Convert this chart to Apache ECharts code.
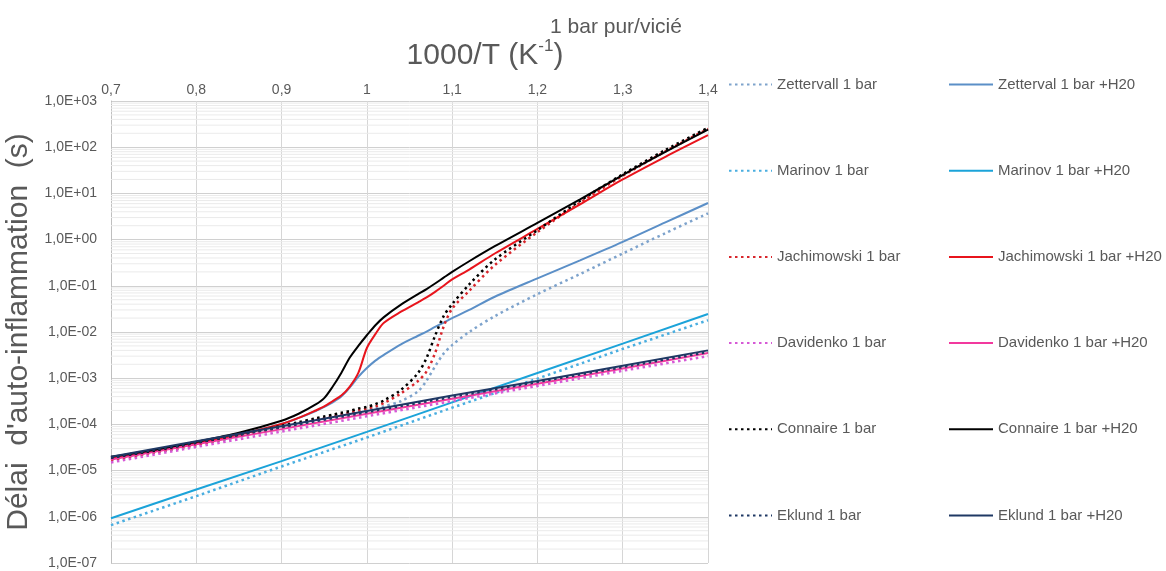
<!DOCTYPE html>
<html>
<head>
<meta charset="utf-8">
<script src="https://cdn.jsdelivr.net/npm/echarts@6/dist/echarts.min.js"></script>
<style>html,body{margin:0;padding:0;background:#fff}#c{width:1166px;height:571px}</style>
</head>
<body>
<div id="c"></div>
<script>
// ---- data ----
const xFine = [0.70,0.75,0.80,0.85,0.90,0.92,0.94,0.95,0.96,0.97,0.98,0.99,1.00,1.01,1.02,1.04,1.06,1.07,1.08,1.09,1.10,1.12,1.15,1.20,1.25,1.30,1.35,1.40];
const xCoarse = [0.7,0.8,0.9,1.0,1.1,1.2,1.3,1.4];

const zettervall1bar = [1.66e-5,2.4e-5,3.55e-5,5.4e-5,8.3e-5,1.0e-4,1.2e-4,1.32e-4,1.45e-4,1.6e-4,1.74e-4,1.9e-4,2.05e-4,2.25e-4,2.45e-4,3.2e-4,5.2e-4,8.9e-4,1.8e-3,3.4e-3,5.2e-3,1.0e-2,2.2e-2,6.6e-2,0.18,0.50,1.38,3.7];
const zettervalH2O = [1.8e-5,2.6e-5,3.9e-5,6.0e-5,1.02e-4,1.38e-4,1.95e-4,2.4e-4,3.0e-4,4.0e-4,6.3e-4,1.07e-3,1.66e-3,2.4e-3,3.2e-3,5.4e-3,8.3e-3,1.02e-2,1.29e-2,1.6e-2,2.0e-2,3.0e-2,5.8e-2,0.145,0.355,0.89,2.35,6.2];
const jachimowski1bar = [1.7e-5,2.45e-5,3.6e-5,5.6e-5,8.7e-5,1.05e-4,1.26e-4,1.38e-4,1.5e-4,1.66e-4,1.8e-4,2.0e-4,2.2e-4,2.45e-4,2.9e-4,4.7e-4,8.7e-4,1.4e-3,3.5e-3,1.3e-2,3.2e-2,7.8e-2,0.28,1.45,6.3,24,81,250];
const jachimowskiH2O = [1.8e-5,2.6e-5,3.9e-5,6.0e-5,1.02e-4,1.38e-4,2.0e-4,2.45e-4,3.2e-4,4.2e-4,6.6e-4,1.3e-3,4.5e-3,9.0e-3,1.58e-2,2.75e-2,4.4e-2,5.6e-2,7.4e-2,0.10,0.138,0.225,0.50,1.70,5.8,20,62,182];
const connaire1bar = [1.9e-5,2.7e-5,4.0e-5,6.0e-5,9.3e-5,1.12e-4,1.35e-4,1.48e-4,1.62e-4,1.78e-4,1.95e-4,2.2e-4,2.4e-4,2.75e-4,3.3e-4,5.6e-4,1.3e-3,2.75e-3,8.3e-3,2.2e-2,4.0e-2,0.107,0.37,1.6,6.9,26,87,263];
const connaireH2O = [2.0e-5,2.8e-5,4.2e-5,6.6e-5,1.2e-4,1.7e-4,2.7e-4,3.7e-4,6.6e-4,1.3e-3,2.8e-3,5.0e-3,8.5e-3,1.4e-2,2.1e-2,3.9e-2,6.6e-2,8.5e-2,0.112,0.15,0.20,0.34,0.72,2.3,7.4,25,79,240];

const marinov1bar = [6.6e-7,2.8e-6,1.23e-5,5.2e-5,2.3e-4,9.8e-4,4.3e-3,1.8e-2];
const marinovH2O = [9.3e-7,3.9e-6,1.6e-5,6.9e-5,3.0e-4,1.3e-3,5.6e-3,2.45e-2];
const davidenko1bar = [1.5e-5,3.25e-5,7.0e-5,1.5e-4,3.2e-4,6.8e-4,1.45e-3,3.0e-3];
const davidenkoH2O = [1.74e-5,3.7e-5,7.9e-5,1.7e-4,3.6e-4,7.6e-4,1.62e-3,3.5e-3];
const eklund1bar = [1.9e-5,4.1e-5,8.7e-5,1.85e-4,3.95e-4,8.3e-4,1.75e-3,3.7e-3];
const eklundH2O = [2.0e-5,4.3e-5,9.1e-5,1.95e-4,4.2e-4,8.7e-4,1.86e-3,4.0e-3];

const namesDotted = ['Zettervall 1 bar','Marinov 1 bar','Jachimowski 1 bar','Davidenko 1 bar','Connaire 1 bar','Eklund 1 bar'];
const namesSolid = ['Zetterval 1 bar +H20','Marinov 1 bar +H20','Jachimowski 1 bar +H20','Davidenko 1 bar +H20','Connaire 1 bar +H20','Eklund 1 bar +H20'];

const xMin = 0.7, xMax = 1.4;
const yMinExp = -7, yMaxExp = 3;

// ---- build ----
function pairs(xs, ys){ return xs.map((x,i)=>[x, ys[i]]); }
const FONT = 'Liberation Sans';
const GREY = '#595959';

function mk(name, xs, ys, color, dotted, smooth){
  return {
    name, type:'line', data: pairs(xs, ys), showSymbol:false, symbol:'none',
    smooth: smooth, z: 3,
    lineStyle: dotted ? {color, width:2.5, type:[2.5,3.5], cap:'butt'} : {color, width:2},
    itemStyle:{color}, emphasis:{disabled:true}
  };
}

// minor grid lines (2..9 within each decade), one broken line drawn through the log axis
const minorGridData = [];
for (let e = yMinExp; e < yMaxExp; e++) {
  for (let m = 2; m <= 9; m++) {
    const v = m * Math.pow(10, e);
    minorGridData.push([xMin, v], [xMax, v], [xMax, null]);
  }
}

const S = 0.3;
const series = [
  {name:'_grid', type:'line', data:minorGridData, z:1, silent:true, showSymbol:false, symbol:'none',
   connectNulls:false, lineStyle:{color:'#ebebeb', width:1}, emphasis:{disabled:true}, tooltip:{show:false}},
  mk(namesDotted[0], xFine, zettervall1bar, '#7ea3cc', true, S),
  mk(namesSolid[0], xFine, zettervalH2O, '#5b8fc7', false, S),
  mk(namesDotted[1], xCoarse, marinov1bar, '#4aaee0', true, false),
  mk(namesSolid[1], xCoarse, marinovH2O, '#1ba3d9', false, false),
  mk(namesDotted[2], xFine, jachimowski1bar, '#d8262c', true, S),
  mk(namesSolid[2], xFine, jachimowskiH2O, '#e8141c', false, S),
  mk(namesDotted[3], xCoarse, davidenko1bar, '#d659d6', true, false),
  mk(namesSolid[3], xCoarse, davidenkoH2O, '#f2399e', false, false),
  mk(namesDotted[4], xFine, connaire1bar, '#000000', true, S),
  mk(namesSolid[4], xFine, connaireH2O, '#000000', false, S),
  mk(namesDotted[5], xCoarse, eklund1bar, '#1f3864', true, false),
  mk(namesSolid[5], xCoarse, eklundH2O, '#1f3864', false, false)
];

function fmtY(v){
  const e = Math.round(Math.log10(v));
  const a = Math.abs(e);
  return '1,0E' + (e < 0 ? '-' : '+') + (a < 10 ? '0' : '') + a;
}
function fmtX(v){ return String(Math.round(v*10)/10).replace('.', ','); }

const legendCommon = {
  orient:'vertical', itemHeight:16, itemGap:70.2, top:76.5, padding:0,
  itemStyle:{opacity:0},
  textStyle:{color:GREY, fontSize:15, fontFamily:FONT, lineHeight:16}, selectedMode:false
};

const option = {
  animation:false,
  backgroundColor:'#ffffff',
  textStyle:{fontFamily:FONT},
  title:[
    {text:'1 bar pur/vicié', left:616, top:14, textAlign:'center', padding:0,
     textStyle:{fontSize:21, fontWeight:'normal', color:GREY, fontFamily:FONT, lineHeight:26}},
    {text:'1000/T (K{sup|-1})', left:485, top:38, textAlign:'center', padding:0,
     textStyle:{fontSize:30, fontWeight:'normal', color:GREY, fontFamily:FONT, lineHeight:36,
       rich:{sup:{fontSize:17, color:GREY, fontFamily:FONT, verticalAlign:'top', lineHeight:22}}}}
  ],
  grid:{left:111, top:101, width:597, height:462, containLabel:false, outerBoundsMode:'none'},
  legend:[
    Object.assign({left:728, itemWidth:43, data:namesDotted}, legendCommon),
    Object.assign({left:948, itemWidth:44, data:namesSolid}, legendCommon)
  ],
  xAxis:{
    type:'value', position:'top', min:xMin, max:xMax, interval:0.1,
    axisLine:{show:false}, axisTick:{show:false},
    axisLabel:{formatter:fmtX, color:GREY, fontSize:14, fontFamily:FONT, margin:4},
    splitLine:{show:true, lineStyle:{color:'#d6d6d6', width:1}}
  },
  yAxis:{
    type:'log', logBase:10, min:Math.pow(10, yMinExp), max:Math.pow(10, yMaxExp), interval:1,
    axisLine:{show:true, lineStyle:{color:'#bfbfbf'}}, axisTick:{show:false},
    axisLabel:{formatter:fmtY, color:GREY, fontSize:14, fontFamily:FONT, margin:14, interval:0},
    splitLine:{show:true, lineStyle:{color:'#d0d0d0', width:1}},
    name:"Délai  d'auto-inflammation  (s)", nameLocation:'middle', nameGap:72,
    nameTextStyle:{fontSize:30, color:GREY, fontFamily:FONT}
  },
  series
};

const chart = echarts.init(document.getElementById('c'), null, {renderer:'canvas'});
chart.setOption(option);
</script>
</body>
</html>
